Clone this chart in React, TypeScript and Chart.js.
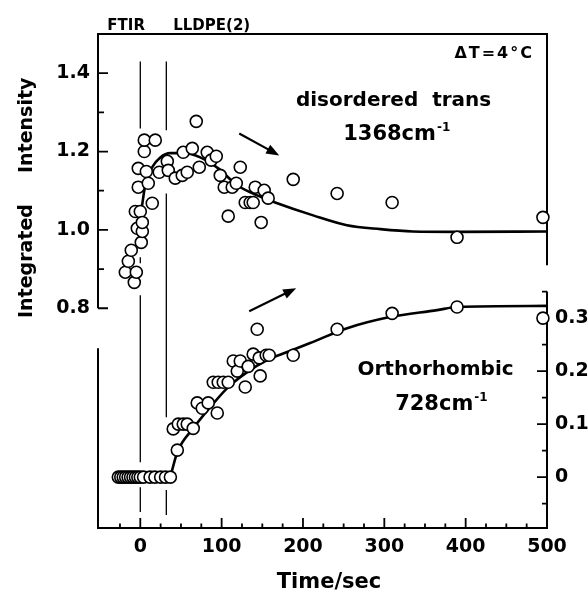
import React, { useEffect, useRef } from 'react';
import { Chart, registerables } from 'chart.js';

Chart.register(...registerables);

// ---- Data ----
// disordered trans 1368 cm-1 (left axis, Integrated Intensity)
const disorderedX = [-18.4, -14.7, -11.1, -7.4, -6.1, -4.9, -3.7, -2.5, -2.5, 0.0, 1.2, 2.5, 2.5, 4.9, 4.9, 7.4, 9.8, 14.7, 18.4, 23.3, 33.2, 34.4, 43.0, 51.6, 52.8, 57.7, 63.9, 68.8, 72.5, 82.3, 87.2, 93.4, 98.3, 103.2, 108.1, 113.0, 118.0, 122.9, 129.0, 135.1, 138.8, 141.3, 148.6, 152.3, 157.2, 188.0, 242.0, 309.6, 389.4, 495.0];
const disorderedY = [0.892, 0.920, 0.948, 0.866, 1.047, 0.892, 1.004, 1.109, 1.157, 1.047, 0.968, 0.996, 1.019, 1.200, 1.229, 1.149, 1.119, 1.068, 1.229, 1.147, 1.175, 1.152, 1.132, 1.139, 1.198, 1.147, 1.208, 1.277, 1.160, 1.198, 1.178, 1.188, 1.139, 1.109, 1.035, 1.109, 1.119, 1.160, 1.070, 1.070, 1.070, 1.109, 1.019, 1.101, 1.081, 1.129, 1.093, 1.070, 0.981, 1.032];

// Orthorhombic 728 cm-1 (right axis)
const orthoX = [-27, -24, -21, -18, -15, -12, -9, -6, -3, 0, 4, 12, 18, 25, 31, 37, 40.5, 45.5, 46.7, 52.8, 57.7, 65.1, 70.0, 76.2, 83.5, 89.7, 94.6, 95.8, 102.0, 108.1, 114.3, 119.2, 122.9, 129.0, 132.7, 138.8, 143.7, 146.2, 147.4, 154.8, 158.5, 188.0, 242.0, 309.6, 389.4, 495.0];
const orthoY = [0, 0, 0, 0, 0, 0, 0, 0, 0, 0, 0, 0, 0, 0, 0, 0, 0.091, 0.051, 0.100, 0.100, 0.100, 0.092, 0.140, 0.130, 0.140, 0.179, 0.121, 0.179, 0.179, 0.179, 0.219, 0.200, 0.219, 0.170, 0.209, 0.232, 0.279, 0.225, 0.191, 0.230, 0.230, 0.230, 0.279, 0.309, 0.321, 0.300];

// fitted curves
const disorderedFitX = [2, 6.1, 14.7, 24.6, 36.9, 55.3, 73.7, 95.8, 119.2, 143.7, 165.8, 212.5, 254, 295, 335, 389, 500];
const disorderedFitY = [1.06, 1.114, 1.160, 1.185, 1.196, 1.196, 1.185, 1.157, 1.114, 1.088, 1.070, 1.037, 1.012, 1.002, 0.996, 0.995, 0.996];
const orthoFitX = [36.9, 45.5, 65.1, 86, 106.9, 131.4, 156, 180.6, 208.8, 254.3, 307, 364.9, 389.4, 500];
const orthoFitY = [0, 0.047, 0.092, 0.132, 0.168, 0.198, 0.221, 0.236, 0.253, 0.281, 0.302, 0.315, 0.321, 0.323];

// vertical marker lines (time = 0 and ~32 s), in left-axis units, null = gap
const markerAtZeroY = [1.43, 1.259, null, 0.93, 0.915, null, 0.833, 0.407, null, 0.343, 0.28];
const markerAtEndY = [1.43, 1.254, null, 1.093, 0.522, null, 0.336, 0.272];
const markerTimes = [0, 32];

// ticks
const xMajorTicks = [0, 100, 200, 300, 400, 500];
const xMinorTicks = [-25, 25, 50, 75, 125, 150, 175, 225, 250, 275, 325, 350, 375, 425, 450, 475];
const leftMajorTicks = [0.8, 1.0, 1.2, 1.4];
const leftMinorTicks = [0.9, 1.1, 1.3];
const rightMajorTicks = [0, 0.1, 0.2, 0.3];
const rightMinorTicks = [-0.05, 0.05, 0.15, 0.25, 0.35];

const FONT = '"DejaVu Sans", "Liberation Sans", Arial, sans-serif';

const toPoints = (xs: number[], ys: (number | null)[]) => xs.map((x, i) => ({ x, y: ys[i] }));
const constX = (x: number, ys: (number | null)[]) => ys.map((y) => ({ x, y }));

const decorPlugin = {
  id: 'decor',
  beforeDatasetsDraw(chart: any) {
    const { ctx, chartArea } = chart;
    const { left: L, right: R, top: T, bottom: B } = chartArea;
    const xs = chart.scales.x;
    const yl = chart.scales.yL;
    const yr = chart.scales.yR;
    ctx.save();
    ctx.strokeStyle = '#000';
    ctx.lineCap = 'butt';
    ctx.lineWidth = 2;
    ctx.beginPath();
    ctx.moveTo(L - 1, T); ctx.lineTo(R + 1, T);
    ctx.moveTo(L - 1, B); ctx.lineTo(R + 1, B);
    ctx.moveTo(L, T); ctx.lineTo(L, yl.getPixelForValue(0.8));
    ctx.moveTo(L, yl.getPixelForValue(0.698)); ctx.lineTo(L, B);
    ctx.moveTo(R, T); ctx.lineTo(R, yl.getPixelForValue(0.91));
    ctx.moveTo(R, yr.getPixelForValue(0.35)); ctx.lineTo(R, B);
    ctx.stroke();

    ctx.lineWidth = 1.8;
    ctx.beginPath();
    leftMajorTicks.forEach((v) => { const p = yl.getPixelForValue(v); ctx.moveTo(L, p); ctx.lineTo(L + 10, p); });
    leftMinorTicks.forEach((v) => { const p = yl.getPixelForValue(v); ctx.moveTo(L, p); ctx.lineTo(L + 6, p); });
    rightMajorTicks.forEach((v) => { const p = yr.getPixelForValue(v); ctx.moveTo(R, p); ctx.lineTo(R - 10, p); });
    rightMinorTicks.forEach((v) => { const p = yr.getPixelForValue(v); ctx.moveTo(R, p); ctx.lineTo(R - 5, p); });
    xMajorTicks.forEach((v) => { const p = xs.getPixelForValue(v); ctx.moveTo(p, B); ctx.lineTo(p, B - 10); });
    xMinorTicks.forEach((v) => { const p = xs.getPixelForValue(v); ctx.moveTo(p, B); ctx.lineTo(p, B - 4.5); });
    ctx.stroke();
    ctx.restore();
  },
  afterDraw(chart: any) {
    const { ctx, chartArea } = chart;
    const { left: L, top: T, bottom: B } = chartArea;
    const xs = chart.scales.x;
    const yl = chart.scales.yL;
    const X = (v: number) => xs.getPixelForValue(v);
    const Y = (v: number) => yl.getPixelForValue(v);
    ctx.save();
    ctx.fillStyle = '#000';
    ctx.strokeStyle = '#000';

    const text = (s: string, x: number, y: number, size: number, align: CanvasTextAlign = 'left', spacing = 0) => {
      ctx.font = `bold ${size}px ${FONT}`;
      ctx.textAlign = align;
      ctx.textBaseline = 'alphabetic';
      (ctx as any).letterSpacing = `${spacing}px`;
      ctx.fillText(s, x, y);
      const w = ctx.measureText(s).width;
      (ctx as any).letterSpacing = '0px';
      return w;
    };
    const withSup = (s: string, sup: string, x: number, y: number, size: number) => {
      const w = text(s, x, y, size, 'left');
      text(sup, x + w + 1, y - 9, 12, 'left');
    };

    // header labels
    text('FTIR', X(-40.5), T - 4, 15);
    text('LLDPE(2)', X(40.5), T - 4, 15);

    // annotations
    text('\u0394T=4\u00B0C', X(484), Y(1.438), 16, 'right', 2);
    text('disordered  trans', X(311.4), Y(1.315), 20, 'center');
    withSup('1368cm', '-1', X(249.4), Y(1.229), 21);
    text('Orthorhombic', X(363), Y(0.629), 20, 'center');
    withSup('728cm', '-1', X(313.3), Y(0.540), 21);

    // axis titles
    text('Time/sec', X(232), B + 60, 21, 'center');
    ctx.save();
    ctx.translate(L - 66, 0);
    ctx.rotate(-Math.PI / 2);
    text('Integrated', -(T + 284), 0, 19, 'left');
    text('Intensity', -(T + 139), 0, 19, 'left');
    ctx.restore();

    // arrows
    const arrow = (x1: number, y1: number, x2: number, y2: number) => {
      const a = Math.atan2(y2 - y1, x2 - x1);
      const len = 13, w = 5;
      const bx = x2 - len * Math.cos(a), by = y2 - len * Math.sin(a);
      ctx.lineWidth = 2.2;
      ctx.beginPath(); ctx.moveTo(x1, y1); ctx.lineTo(bx + 2 * Math.cos(a), by + 2 * Math.sin(a)); ctx.stroke();
      ctx.beginPath();
      ctx.moveTo(x2, y2);
      ctx.lineTo(bx + w * Math.sin(a), by - w * Math.cos(a));
      ctx.lineTo(bx - w * Math.sin(a), by + w * Math.cos(a));
      ctx.closePath(); ctx.fill();
    };
    arrow(X(121.6), Y(1.246), X(170.8), Y(1.190));
    arrow(X(133.9), Y(0.792), X(191.6), Y(0.851));
    ctx.restore();
  },
};

export default function App() {
  const ref = useRef<HTMLCanvasElement | null>(null);
  useEffect(() => {
    if (!ref.current) return;
    const tickFont = { family: FONT, size: 19, weight: 'bold' as const };
    const pointStyle = {
      showLine: false,
      pointRadius: 6,
      pointBorderWidth: 1.6,
      pointBorderColor: '#000',
      pointBackgroundColor: '#fff',
      pointHoverRadius: 6,
      clip: false as any,
    };
    const lineStyle = {
      showLine: true,
      pointRadius: 0,
      pointHoverRadius: 0,
      borderColor: '#000',
      backgroundColor: '#000',
      fill: false,
      spanGaps: false,
    };
    const chart = new Chart(ref.current, {
      type: 'scatter',
      data: {
        datasets: [
          { label: 'disordered trans', data: toPoints(disorderedX, disorderedY), yAxisID: 'yL', ...pointStyle },
          { label: 'Orthorhombic', data: toPoints(orthoX, orthoY), yAxisID: 'yR', ...pointStyle },
          { label: 'fit 1368', data: toPoints(disorderedFitX, disorderedFitY), yAxisID: 'yL', ...lineStyle, borderWidth: 2.6, cubicInterpolationMode: 'monotone' },
          { label: 'fit 728', data: toPoints(orthoFitX, orthoFitY), yAxisID: 'yR', ...lineStyle, borderWidth: 2.6, cubicInterpolationMode: 'monotone' },
          { label: 't0', data: constX(markerTimes[0], markerAtZeroY), yAxisID: 'yL', ...lineStyle, borderWidth: 1.3 },
          { label: 't1', data: constX(markerTimes[1], markerAtEndY), yAxisID: 'yL', ...lineStyle, borderWidth: 1.3 },
        ] as any,
      },
      options: {
        responsive: false,
        animation: false,
        devicePixelRatio: 1,
        events: [],
        layout: { padding: { top: 34, left: 0, right: 0, bottom: 0 } },
        plugins: { legend: { display: false }, tooltip: { enabled: false } },
        scales: {
          x: {
            type: 'linear',
            position: 'bottom',
            min: -52,
            max: 500,
            grid: { display: false, drawTicks: false },
            border: { display: false },
            ticks: { font: tickFont, color: '#000', padding: 8, autoSkip: false, maxRotation: 0, callback: (v: any) => String(v) },
            afterBuildTicks: (s: any) => { s.ticks = xMajorTicks.map((value) => ({ value })); },
            afterFit: (s: any) => { s.height = 66; },
          },
          yL: {
            type: 'linear',
            position: 'left',
            min: 0.239,
            max: 1.5,
            grid: { display: false, drawTicks: false },
            border: { display: false },
            ticks: { font: tickFont, color: '#000', padding: 8, autoSkip: false, callback: (v: any) => Number(v).toFixed(1) },
            afterBuildTicks: (s: any) => { s.ticks = leftMajorTicks.map((value) => ({ value })); },
            afterFit: (s: any) => { s.width = 98; },
          },
          yR: {
            type: 'linear',
            position: 'right',
            min: -0.096,
            max: 0.836,
            grid: { display: false, drawTicks: false },
            border: { display: false },
            ticks: { font: tickFont, color: '#000', padding: 8, autoSkip: false, callback: (v: any) => (Number(v) === 0 ? '0' : Number(v).toFixed(1)) },
            afterBuildTicks: (s: any) => { s.ticks = rightMajorTicks.map((value) => ({ value })); },
            afterFit: (s: any) => { s.width = 41; },
          },
        },
      } as any,
      plugins: [decorPlugin],
    });
    return () => chart.destroy();
  }, []);
  return (
    <div style={{ position: 'fixed', left: 0, top: 0, width: 588, height: 594, background: '#fff' }}>
      <canvas ref={ref} width={588} height={594} style={{ display: 'block', width: 588, height: 594 }} />
    </div>
  );
}
